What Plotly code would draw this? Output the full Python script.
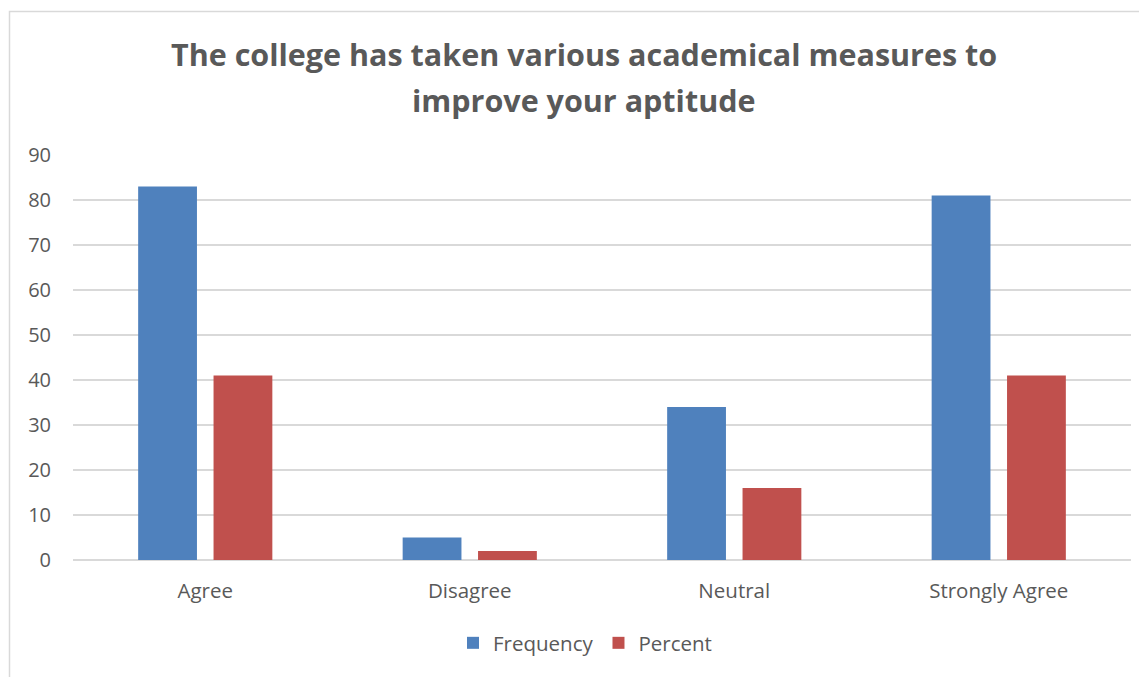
import plotly.graph_objects as go

categories = ["Agree", "Disagree", "Neutral", "Strongly Agree"]
frequency = [83, 5, 34, 81]
percent = [41, 2, 16, 41]
y_ticks = [0, 10, 20, 30, 40, 50, 60, 70, 80, 90]
title_lines = ["The college has taken various academical measures to", "improve your aptitude"]

OFF = 8  # page offset of the rendered figure
W, H = 1147 - OFF, 677 - OFF
L, R, T, B = 73 - OFF, 16, 155 - OFF, 117
pw, ph = W - L - R, H - T - B

def px_x(x):
    return (x - OFF - L) / pw

def px_y(y):
    return (H - B - (y - OFF)) / ph

FONT = "Open Sans, Lato, sans-serif"
GRAY = "#595959"

fig = go.Figure()
fig.add_trace(go.Bar(name="Frequency", x=categories, y=frequency, marker_color="#4F81BD",
                     marker_line_width=0))
fig.add_trace(go.Bar(name="Percent", x=categories, y=percent, marker_color="#C0504D",
                     marker_line_width=0))

annotations = []
for line, ypix in zip(title_lines, [54, 100]):
    annotations.append(dict(text=f"<b>{line}</b>", x=px_x(584), y=px_y(ypix), xref="paper", yref="paper",
                            showarrow=False, xanchor="center", yanchor="middle",
                            font=dict(family=FONT, size=30.5, color=GRAY)))

fig.update_layout(
    width=W, height=H,
    margin=dict(l=L, r=R, t=T, b=B),
    paper_bgcolor="white", plot_bgcolor="white",
    barmode="group", bargap=0.43, bargroupgap=0.22,
    font=dict(family=FONT, size=18, color=GRAY),
    annotations=annotations,
    showlegend=True,
    legend=dict(orientation="h", x=px_x(585), y=px_y(643), xanchor="center", yanchor="middle",
                font=dict(family=FONT, size=20.5, color=GRAY), itemwidth=30, traceorder="normal"),
    xaxis=dict(showgrid=False, showline=False, ticks="", ticklabelstandoff=16,
               tickfont=dict(size=20.5, color=GRAY)),
    yaxis=dict(range=[0, 90], tickvals=y_ticks, showgrid=True, gridcolor="#D9D9D9", gridwidth=1.5,
               zeroline=True, zerolinecolor="#D9D9D9", zerolinewidth=1.5, showline=False,
               ticks="", ticklabelstandoff=21, tickfont=dict(size=20, color=GRAY)),
    shapes=[dict(type="rect", xref="paper", yref="paper", x0=px_x(9.5), x1=px_x(1160),
                 y0=px_y(690), y1=px_y(11.5), line=dict(color="#D9D9D9", width=1.5),
                 fillcolor="rgba(0,0,0,0)", layer="below")],
)

fig.write_html("out.html")
